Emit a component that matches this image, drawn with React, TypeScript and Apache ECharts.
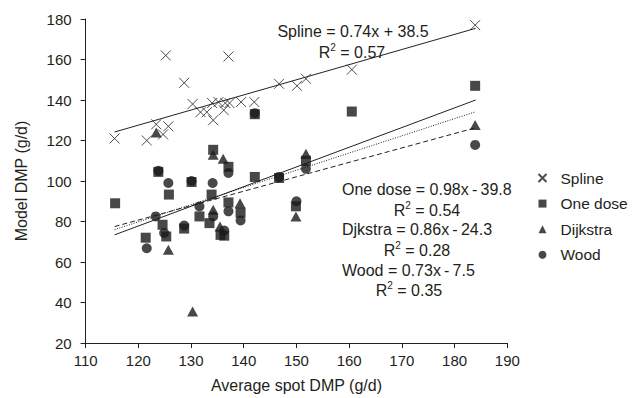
import React, { useEffect, useRef } from "react";
import * as echarts from "echarts";

const seriesNames = ["Spline", "One dose", "Dijkstra", "Wood"];

const splineData = [
  [115.5, 121], [121.6, 120], [123.4, 128], [124.7, 123], [125.7, 127],
  [125.2, 162], [128.7, 148.5], [130.3, 138], [131.8, 134], [133, 134],
  [134, 138.5], [134.2, 130], [135.2, 139], [136.2, 135], [136.5, 138.5],
  [137.1, 161.5], [137.3, 138.5], [139.5, 139], [142, 139], [146.7, 148],
  [150.1, 147], [151.8, 150.5], [160.5, 155], [183.9, 177],
];

const oneDoseData = [
  [115.6, 89], [121.4, 72], [123.8, 104.5], [124.6, 78.4], [125.3, 72.6],
  [125.8, 93.3], [128.7, 76.5], [130.1, 99.5], [131.6, 82.5], [133.5, 79.2],
  [133.9, 93.3], [134.2, 115.4], [135.6, 73.4], [136.3, 73], [137.1, 107],
  [137.1, 89.4], [139.4, 84.3], [142.1, 102], [142.1, 133], [146.7, 101.5],
  [149.9, 87.5], [151.8, 110], [160.5, 134.3], [183.9, 147],
];

const dijkstraData = [
  [123.4, 124], [125.7, 66], [130.3, 35.6], [134.2, 113], [134.2, 85.8],
  [135.5, 77.5], [136.1, 111], [139.3, 89], [149.9, 82.5], [151.8, 113.5],
  [183.9, 127.7],
];

const woodData = [
  [121.6, 66.8], [123.3, 82.5], [123.8, 105], [124.9, 74.3], [125.7, 99],
  [128.7, 78], [130.1, 100], [131.6, 87.4], [134.1, 99], [134.2, 82.5],
  [136.3, 75.5], [137.1, 104], [137.1, 85], [139.4, 80.5], [142.1, 133.5],
  [146.7, 102], [150, 90], [151.8, 106], [183.9, 117.8],
];

// trend line endpoints
const splineTrend = [[115.5, 124.2], [184, 175.4]];
const oneDoseTrend = [[115.5, 73.4], [184, 140]];
const dijkstraTrend = [[115.5, 76], [184, 134.2]];
const woodTrend = [[115.5, 77.5], [184, 126.3]];

const equations = [
  { label: "Spline = 0.74x + 38.5", r2: "0.57" },
  { label: "One dose = 0.98x - 39.8", r2: "0.54" },
  { label: "Djkstra = 0.86x - 24.3", r2: "0.28" },
  { label: "Wood = 0.73x - 7.5", r2: "0.35" },
];

const FONT = "Liberation Sans, Arial, Helvetica, sans-serif";
const TXT = "#231f20";
const MARK = "#1a1a1a";

export default function App() {
  const ref = useRef<HTMLDivElement>(null);
  useEffect(() => {
    if (!ref.current) return;
    const chart = echarts.init(ref.current, null, { renderer: "svg" });
    const eqPos = [
      { x: 353, y: 31, rx: 352, ry: 51 },
      { x: 342, y: 189, rx: 427, ry: 209 },
      { x: 342, y: 229, rx: 417, ry: 249 },
      { x: 342, y: 270, rx: 409, ry: 289 },
    ];
    const graphics: any[] = [];
    equations.forEach((e, i) => {
      const p = eqPos[i];
      graphics.push({
        type: "text",
        x: p.x,
        y: p.y,
        style: {
          text: e.label.replace(" - ", "\u2009-\u2009"),
          fill: TXT,
          font: `16px ${FONT}`,
          align: i === 0 ? "center" : "left",
          verticalAlign: "middle",
        },
      });
      graphics.push({
        type: "text",
        x: p.rx,
        y: p.ry,
        style: {
          text: `{n|R}{s|2}{n| = ${e.r2}}`,
          fill: TXT,
          align: "center",
          verticalAlign: "middle",
          rich: {
            n: { fontSize: 16, fontFamily: FONT, fill: TXT, lineHeight: 18, verticalAlign: "bottom" },
            s: { fontSize: 10, fontFamily: FONT, fill: TXT, lineHeight: 10, verticalAlign: "top" },
          },
        },
      });
    });

    const trendLine = (data: number[][], type: any) => ({
      type: "line",
      data,
      symbol: "none",
      silent: true,
      lineStyle: { color: "#222", width: 1, type },
      z: 1,
    });

    chart.setOption({
      animation: false,
      textStyle: { fontFamily: FONT, color: TXT },
      grid: { left: 85.6, right: 124.7, top: 19, bottom: 54.7, containLabel: false },
      xAxis: {
        type: "value",
        min: 110,
        max: 190,
        interval: 10,
        name: "Average spot DMP (g/d)",
        nameLocation: "middle",
        nameGap: 34,
        nameTextStyle: { fontSize: 16, color: TXT, fontFamily: FONT },
        axisLine: { lineStyle: { color: "#222", width: 1 } },
        axisTick: { show: true, inside: false, length: 5, lineStyle: { color: "#222" } },
        axisLabel: { fontSize: 15, color: TXT, margin: 10, fontFamily: FONT },
        splitLine: { show: false },
      },
      yAxis: {
        type: "value",
        min: 20,
        max: 180,
        interval: 20,
        name: "Model DMP (g/d)",
        nameLocation: "middle",
        nameGap: 56,
        nameTextStyle: { fontSize: 16, color: TXT, fontFamily: FONT },
        axisLine: { show: true, lineStyle: { color: "#222", width: 1 } },
        axisTick: { show: true, inside: false, length: 5, lineStyle: { color: "#222" } },
        axisLabel: { fontSize: 15, color: TXT, margin: 14, fontFamily: FONT },
        splitLine: { show: false },
      },
      legend: {
        orient: "vertical",
        left: 531,
        top: 165,
        itemWidth: 8,
        itemHeight: 8,
        itemGap: 9.6,
        data: seriesNames,
        textStyle: {
          fontSize: 15.5,
          color: TXT,
          fontFamily: FONT,
          lineHeight: 15.5,
          padding: [0, 0, 0, 9],
        },
      },
      graphic: graphics,
      series: [
        {
          name: "Spline",
          type: "scatter",
          data: splineData,
          symbol: "path://M0,0L10,10M10,0L0,10",
          symbolSize: 10,
          itemStyle: { color: "none", borderColor: "#222", borderWidth: 1 },
          z: 3,
        },
        {
          name: "One dose",
          type: "scatter",
          data: oneDoseData,
          symbol: "rect",
          symbolSize: 10,
          itemStyle: { color: MARK },
          z: 3,
        },
        {
          name: "Dijkstra",
          type: "scatter",
          data: dijkstraData,
          symbol: "triangle",
          symbolSize: [11, 10],
          itemStyle: { color: MARK },
          z: 3,
        },
        {
          name: "Wood",
          type: "scatter",
          data: woodData,
          symbol: "circle",
          symbolSize: 10,
          itemStyle: { color: MARK },
          z: 3,
        },
        trendLine(splineTrend, "solid"),
        trendLine(oneDoseTrend, "solid"),
        trendLine(dijkstraTrend, [1, 1.5]),
        trendLine(woodTrend, [5, 3]),
      ],
    });
    return () => chart.dispose();
  }, []);
  return (
    <div
      ref={ref}
      style={{ position: "absolute", left: 0, top: 0, width: 632, height: 398, background: "#fff" }}
    />
  );
}
